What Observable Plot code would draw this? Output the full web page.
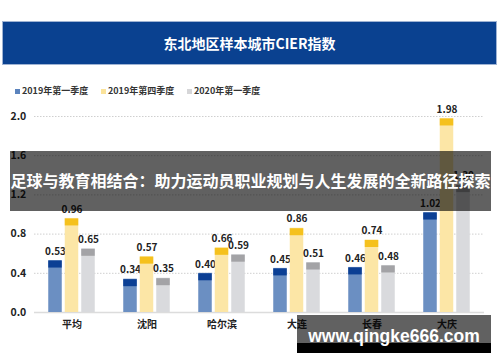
<!DOCTYPE html>
<html>
<head>
<meta charset="utf-8">
<script src="https://cdn.jsdelivr.net/npm/d3@7"></script>
<script src="https://cdn.jsdelivr.net/npm/@observablehq/plot@0.6"></script>
<style>
  html, body { margin: 0; padding: 0; background: #fff; }
  body { width: 500px; height: 362px; position: relative; overflow: hidden;
         font-family: "Noto Sans CJK SC", "Noto Sans", sans-serif; }
  #header { position: relative; height: 100px; }
  #titleband { position: absolute; left: 3px; top: 22px; width: 493px; height: 42px;
               background: #0a4190; box-shadow: 0 0 0 1px #9fb3d3;
               color: #fff; font-size: 14px; font-weight: 700; text-align: center; line-height: 42px; }
  #legend { position: absolute; left: 15px; top: 83px; height: 16px; font-size: 9px; font-weight: 700; color: #333; }
  .li { position: absolute; top: 0; white-space: nowrap; line-height: 16px; }
  .sw { display: inline-block; width: 5px; height: 5px; margin-right: 2px; vertical-align: 0px; }
  #chart svg { display: block; }
  #banner { position: absolute; left: 10px; top: 151px; width: 481px; height: 60px;
            background: rgba(0,0,0,0.62); color: #fff; font-size: 16px; font-weight: 700;
            text-align: center; line-height: 20px; box-sizing: border-box; padding-top: 19px; white-space: nowrap; }
  #wm1 { position: absolute; left: 297px; top: 315px; width: 194px; height: 28px; background: rgba(0,0,0,0.62); }
  #wm2 { position: absolute; left: 297px; top: 343px; width: 194px; height: 10px; background: #000; }
  #wmtext { position: absolute; left: 297px; top: 326px; width: 194px; text-align: center;
            font-family: "Liberation Sans", Arial, sans-serif; font-size: 17.5px; font-weight: 700;
            color: #fff; line-height: 20px; }
</style>
</head>
<body>
<div id="header">
  <div id="titleband">东北地区样本城市CIER指数</div>
  <div id="legend"></div>
</div>
<div id="chart"></div>
<div id="banner">足球与教育相结合：助力运动员职业规划与人生发展的全新路径探索</div>
<div id="wm1"></div>
<div id="wm2"></div>
<div id="wmtext">www.qingke666.com</div>
<script>
// ---- data ----
const cities = ["平均", "沈阳", "哈尔滨", "大连", "长春", "大庆"];
const seriesNames = ["2019年第一季度", "2019年第四季度", "2020年第一季度"];
const q2019_1 = [0.53, 0.34, 0.40, 0.45, 0.46, 1.02];
const q2019_4 = [0.96, 0.57, 0.66, 0.86, 0.74, 1.98];
const q2020_1 = [0.65, 0.35, 0.59, 0.51, 0.48, 1.30];
const yTicks = [0, 0.4, 0.8, 1.2, 1.6, 2.0];

// ---- styles ----
const bodyColors = ["#6b8fc2", "#fce6a6", "#d9dadd"];
const capColors = ["#0b3f94", "#f5c11d", "#a3a3a6"];
const offsets = [-16.5, 0, 16.5];
const valueSets = [q2019_1, q2019_4, q2020_1];

// legend
const legend = document.getElementById("legend");
const legendX = [0, 86, 172];
seriesNames.forEach((s, i) => {
  const el = document.createElement("div");
  el.className = "li";
  el.style.left = legendX[i] + "px";
  el.innerHTML = `<span class="sw" style="background:${capColors[i] === "#0b3f94" ? "#5b83bd" : (i === 1 ? "#fbe39a" : "#d6d6d8")}"></span>${s}`;
  legend.appendChild(el);
});

const inset = 30.75;
const marks = [];
// grid
marks.push(Plot.ruleY(yTicks.filter(d => d > 0), {stroke: "#cfcfcf", strokeWidth: 1, strokeDasharray: "1.5,1.5"}));
marks.push(Plot.ruleY([0], {stroke: "#dcdcdc", strokeWidth: 1.5}));
valueSets.forEach((vals, i) => {
  const data = cities.map((c, j) => ({city: c, v: vals[j]}));
  marks.push(Plot.barY(data, {x: "city", y: "v", fill: bodyColors[i], insetLeft: inset, insetRight: inset, dx: offsets[i]}));
  marks.push(Plot.tickY(data, {x: "city", y: "v", stroke: capColors[i], strokeWidth: 7, dy: 3.5, insetLeft: inset, insetRight: inset, dx: offsets[i]}));
  marks.push(Plot.text(data, {x: "city", y: "v", text: d => d.v.toFixed(2), dx: offsets[i], dy: -9,
    fontSize: 10, fontWeight: 700, fill: "#222", lineAnchor: "middle"}));
});
// y tick labels
marks.push(Plot.text(yTicks, {y: d => d, text: d => d.toFixed(1), frameAnchor: "left", textAnchor: "start",
  dx: -24, fontSize: 10.5, fontWeight: 700, fill: "#222", lineAnchor: "middle"}));
// x labels
marks.push(Plot.text(cities, {x: d => d, text: d => d, frameAnchor: "bottom", dy: 12,
  fontSize: 10, fontWeight: 700, fill: "#222", lineAnchor: "middle"}));

const chart = Plot.plot({
  width: 500,
  height: 262,
  marginTop: 16,
  marginBottom: 50,
  marginLeft: 34,
  marginRight: 16,
  style: {fontFamily: '"Noto Sans CJK SC", "Noto Sans", sans-serif', background: "transparent", overflow: "visible"},
  x: {domain: cities, padding: 0, axis: null},
  y: {domain: [0, 2.0], axis: null},
  marks
});
document.getElementById("chart").appendChild(chart);
</script>
</body>
</html>
